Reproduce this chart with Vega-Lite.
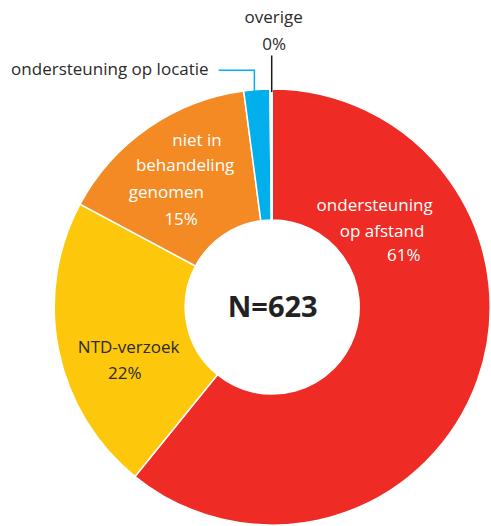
{
  "$schema": "https://vega.github.io/schema/vega-lite/v6.json",
  "width": 491,
  "height": 526,
  "padding": 0,
  "autosize": {"type": "fit", "contains": "padding"},
  "background": "white",
  "config": {"view": {"stroke": null}},
  "datasets": {
    "slices": [
      {"cat": "ondersteuning op afstand", "count": 379, "ord": 1},
      {"cat": "NTD-verzoek", "count": 137, "ord": 2},
      {"cat": "niet in behandeling genomen", "count": 94, "ord": 3},
      {"cat": "ondersteuning op locatie", "count": 12, "ord": 4},
      {"cat": "overige", "count": 1, "ord": 5}
    ],
    "labels": [
      {"text": "overige", "lx": 1.5, "ly": 287, "kind": "outside"},
      {"text": "0%", "lx": 2, "ly": 260, "kind": "outside"},
      {"text": "ondersteuning op locatie", "lx": -164, "ly": 234, "kind": "outside"},
      {"text": "ondersteuning", "lx": 103.5, "ly": 97, "kind": "light"},
      {"text": "op afstand", "lx": 111, "ly": 71, "kind": "light"},
      {"text": "61%", "lx": 133, "ly": 47, "kind": "light"},
      {"text": "niet in", "lx": -76, "ly": 163, "kind": "light"},
      {"text": "behandeling", "lx": -88, "ly": 137, "kind": "light"},
      {"text": "genomen", "lx": -107, "ly": 110, "kind": "light"},
      {"text": "15%", "lx": -92, "ly": 83, "kind": "light"},
      {"text": "NTD-verzoek", "lx": -145, "ly": -46, "kind": "dark"},
      {"text": "22%", "lx": -149, "ly": -73, "kind": "dark"},
      {"text": "N=623", "lx": 0.5, "ly": -10, "kind": "total"}
    ],
    "leaders": [
      {"grp": "ondersteuning op locatie", "p": 1, "lx": -18, "ly": 217},
      {"grp": "ondersteuning op locatie", "p": 2, "lx": -18, "ly": 239},
      {"grp": "ondersteuning op locatie", "p": 3, "lx": -54, "ly": 239},
      {"grp": "overige", "p": 1, "lx": -0.5, "ly": 254},
      {"grp": "overige", "p": 2, "lx": -0.5, "ly": 217}
    ]
  },
  "layer": [
    {
      "data": {"name": "slices"},
      "mark": {"type": "arc", "outerRadius": 218, "innerRadius": 87, "stroke": "white", "strokeWidth": 1.5},
      "encoding": {
        "theta": {"field": "count", "type": "quantitative", "stack": true},
        "order": {"field": "ord", "type": "quantitative"},
        "color": {
          "field": "cat", "type": "nominal", "legend": null,
          "scale": {
            "domain": ["ondersteuning op afstand", "NTD-verzoek", "niet in behandeling genomen", "ondersteuning op locatie", "overige"],
            "range": ["#ee2b24", "#fdc80c", "#f38a24", "#01afec", "#ffffff"]
          }
        },
        "x": {"datum": 0, "type": "quantitative", "scale": {"domain": [-275, 216], "nice": false, "zero": false}, "axis": null},
        "y": {"datum": 0, "type": "quantitative", "scale": {"domain": [-216, 310], "nice": false, "zero": false}, "axis": null}
      }
    },
    {
      "data": {"name": "leaders"},
      "transform": [{"filter": "datum.grp === 'ondersteuning op locatie'"}],
      "mark": {"type": "line", "color": "#01afec", "strokeWidth": 1.5},
      "encoding": {
        "x": {"field": "lx", "type": "quantitative", "scale": {"domain": [-275, 216], "nice": false, "zero": false}, "axis": null},
        "y": {"field": "ly", "type": "quantitative", "scale": {"domain": [-216, 310], "nice": false, "zero": false}, "axis": null},
        "order": {"field": "p", "type": "quantitative"}
      }
    },
    {
      "data": {"name": "leaders"},
      "transform": [{"filter": "datum.grp === 'overige'"}],
      "mark": {"type": "line", "color": "#1a1a1a", "strokeWidth": 1.5},
      "encoding": {
        "x": {"field": "lx", "type": "quantitative", "scale": {"domain": [-275, 216], "nice": false, "zero": false}, "axis": null},
        "y": {"field": "ly", "type": "quantitative", "scale": {"domain": [-216, 310], "nice": false, "zero": false}, "axis": null},
        "order": {"field": "p", "type": "quantitative"}
      }
    },
    {
      "data": {"name": "labels"},
      "transform": [{"filter": "datum.kind === 'outside' || datum.kind === 'dark'"}],
      "mark": {"type": "text", "font": "Open Sans", "fontSize": 17, "color": "#2a2a2a", "align": "center", "baseline": "alphabetic"},
      "encoding": {
        "x": {"field": "lx", "type": "quantitative", "scale": {"domain": [-275, 216], "nice": false, "zero": false}, "axis": null},
        "y": {"field": "ly", "type": "quantitative", "scale": {"domain": [-216, 310], "nice": false, "zero": false}, "axis": null},
        "text": {"field": "text", "type": "nominal"}
      }
    },
    {
      "data": {"name": "labels"},
      "transform": [{"filter": "datum.kind === 'light'"}],
      "mark": {"type": "text", "font": "Open Sans", "fontSize": 17, "color": "#ffffff", "align": "center", "baseline": "alphabetic"},
      "encoding": {
        "x": {"field": "lx", "type": "quantitative", "scale": {"domain": [-275, 216], "nice": false, "zero": false}, "axis": null},
        "y": {"field": "ly", "type": "quantitative", "scale": {"domain": [-216, 310], "nice": false, "zero": false}, "axis": null},
        "text": {"field": "text", "type": "nominal"}
      }
    },
    {
      "data": {"name": "labels"},
      "transform": [{"filter": "datum.kind === 'total'"}],
      "mark": {"type": "text", "font": "Open Sans", "fontSize": 29, "fontWeight": "bold", "color": "#222222", "align": "center", "baseline": "alphabetic"},
      "encoding": {
        "x": {"field": "lx", "type": "quantitative", "scale": {"domain": [-275, 216], "nice": false, "zero": false}, "axis": null},
        "y": {"field": "ly", "type": "quantitative", "scale": {"domain": [-216, 310], "nice": false, "zero": false}, "axis": null},
        "text": {"field": "text", "type": "nominal"}
      }
    }
  ]
}
